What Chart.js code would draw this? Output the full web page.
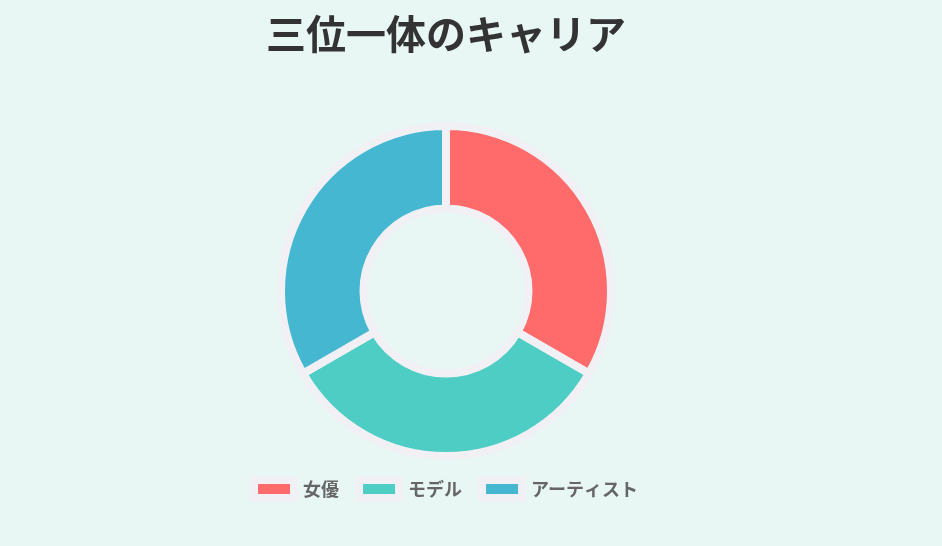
<!DOCTYPE html>
<html lang="ja">
<head>
<meta charset="UTF-8">
<title>三位一体のキャリア</title>
<script src="https://cdn.jsdelivr.net/npm/chart.js@4.4.1/dist/chart.umd.min.js"></script>
<style>
    html, body {
        margin: 0;
        padding: 0;
        background: #e8f7f4;
        overflow: hidden;
    }
    .chart-box {
        position: absolute;
        left: 0;
        top: 0;
        width: 892px;
        height: 546px;
    }
</style>
</head>
<body>
<div class="chart-box">
    <canvas id="careerChart"></canvas>
</div>
<script>
// --- DATA ---
const careerLabels = ['女優', 'モデル', 'アーティスト'];
const careerValues = [33.3, 33.3, 33.3];
const careerColors = ['#FF6B6B', '#4ECDC4', '#45B7D1'];

document.addEventListener("DOMContentLoaded", function() {
    Chart.defaults.font.family = "'Noto Sans CJK JP', 'Noto Sans', sans-serif";

    const ctx = document.getElementById('careerChart').getContext('2d');
    new Chart(ctx, {
        type: 'doughnut',
        data: {
            labels: careerLabels,
            datasets: [{
                data: careerValues,
                backgroundColor: careerColors,
                borderColor: '#f0f0f5',
                borderWidth: 8
            }]
        },
        options: {
            responsive: true,
            maintainAspectRatio: false,
            animation: false,
            cutout: '50%',
            layout: {
                padding: { top: 0, bottom: 38 }
            },
            plugins: {
                title: {
                    display: true,
                    text: '三位一体のキャリア',
                    color: '#333',
                    font: { size: 40, weight: 'bold' },
                    padding: { top: 10, bottom: 64 }
                },
                legend: {
                    position: 'bottom',
                    labels: {
                        color: '#666',
                        padding: 20,
                        font: { size: 18, weight: 'bold' }
                    }
                },
                tooltip: { enabled: false }
            }
        }
    });
});
</script>
</body>
</html>
